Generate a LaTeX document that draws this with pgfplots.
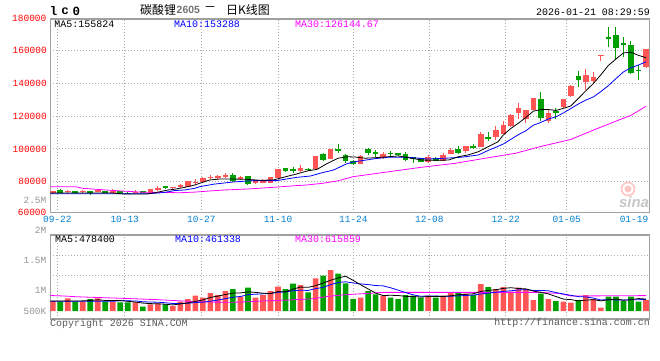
\documentclass[border=0pt]{standalone}
\usepackage{fontspec}
\usepackage{pgfplots}
\usepackage{pgfplotstable}
\pgfplotsset{compat=1.18}
\setmainfont{Liberation Mono}
\newfontfamily\cjk{Noto Sans CJK SC}
\newfontfamily\sansf{Liberation Sans}
\definecolor{candred}{RGB}{255,85,85}
\definecolor{candgreen}{RGB}{0,160,0}
\definecolor{framegray}{RGB}{160,160,160}
\definecolor{gridgray}{RGB}{170,170,170}
\definecolor{labred}{RGB}{255,0,0}
\definecolor{labblue}{RGB}{0,128,210}
\definecolor{labgray}{RGB}{150,150,150}
\definecolor{mablue}{RGB}{0,0,255}
\definecolor{mamag}{RGB}{255,0,255}
\definecolor{txtgray}{RGB}{90,90,90}
\newcommand\mf{\fontsize{9.5}{10}\selectfont}
\newcommand\lf{\fontsize{10}{11}\selectfont}

% i open high low close volume (up days)
\pgfplotstableread{
i O H L C V
0 72800 74400 72600 74200 400000
2 73600 74900 73200 74400 507000
4 73600 75000 73200 74400 373000
6 73600 75500 73400 74900 507000
8 73200 75500 72800 74000 373000
11 73000 74900 72800 73600 347000
13 72800 75600 72600 75500 267000
14 74900 77300 74400 76300 307000
16 75900 76900 74900 76700 200000
17 76500 78400 76100 77700 373000
18 76900 80600 76700 80400 480000
19 79200 81600 78400 80000 613000
20 79800 83000 79000 82400 533000
21 82200 83900 81400 82800 720000
22 82200 84200 81800 83400 640000
23 82800 85100 82200 84000 800000
25 81600 83400 81000 82800 573000
27 79000 80400 78500 80200 533000
28 79300 81400 79000 80800 640000
29 79300 82800 79100 82600 800000
30 82400 87700 82200 87500 973000
33 86500 90000 85900 88500 1040000
35 87900 95900 87700 95700 1307000
37 93800 100100 93600 99900 1640000
41 91000 96000 90700 95700 533000
44 94300 98100 93800 96900 613000
50 91800 96100 91200 95200 613000
52 92600 97500 92400 96500 613000
53 97000 100400 96800 99300 747000
55 98500 102000 97300 101800 693000
57 101400 110200 101100 109100 1080000
59 107000 114000 105400 111600 880000
60 109300 117100 109100 114800 960000
61 114000 121100 113600 120900 773000
62 122000 127900 118300 125000 933000
63 118300 124000 116000 123800 880000
64 123800 131100 123600 130900 440000
66 117100 124400 116000 121800 480000
68 125900 130500 124800 130300 373000
69 132400 138800 131600 138700 333000
71 141100 148700 136000 145200 640000
72 141500 146800 139500 143800 480000
73 156800 157200 153500 157200 133000
79 149900 161100 149300 160900 440000
}\redK

% down days
\pgfplotstableread{
i O H L C V
1 74900 75700 72800 73200 373000
3 74200 74500 72600 72800 373000
5 74200 74400 72000 72800 480000
7 74200 74400 73000 73200 373000
9 74000 74300 73000 73200 347000
10 73200 73400 72400 72800 347000
12 74000 74300 73000 73200 173000
15 77300 77500 75700 76100 267000
24 84000 85100 79800 80600 880000
26 83400 83600 77900 78700 933000
31 88100 88300 86100 86500 880000
32 87500 88800 85500 86700 1093000
34 87700 88500 86700 87100 747000
36 97100 97700 92600 93200 1413000
38 99900 103000 97700 98900 1493000
39 96000 96700 91600 92400 1107000
40 92400 93200 90000 90800 480000
42 99900 100600 96400 97200 800000
43 98000 99300 94900 96900 667000
45 97500 98700 95200 96900 533000
46 97500 97700 95900 96100 480000
47 96700 98100 92400 93200 640000
48 95000 95200 91600 94000 613000
49 94300 94400 91800 92000 533000
51 94600 94800 92400 92600 533000
54 100100 101800 96900 97500 747000
56 102000 102800 100100 100700 640000
58 107500 110500 104800 106200 960000
65 130500 135000 117300 119100 693000
67 123400 124800 118300 121800 400000
70 144600 147800 138100 142100 440000
74 168600 174700 162300 167000 573000
75 169700 174400 155200 161900 573000
76 164600 168600 156000 163400 400000
77 163600 166000 145600 146200 573000
78 148300 151300 142100 147500 373000
}\greenK

\pgfplotsset{
  panel/.style={
    scale only axis, anchor=south west, width=599bp,
    xmin=-0.32, xmax=79.44,
    axis line style={draw=framegray, line width=1.4bp},
    major tick length=0pt,
    grid=major,
    grid style={draw=gridgray, line width=0.9bp, dash pattern=on 1bp off 2bp},
    xtick={0.61,9.59,19.79,30.0,40.03,50.15,60.32,68.44},
    scaled y ticks=false,
    /pgf/number format/assume math mode=true,
    clip=true,
  },
  wick/.style={only marks, mark=none, mark size=0pt,
    mark options={draw=none, fill=none}, forget plot,
    error bars/.cd, y dir=plus, y explicit, error mark=none,
    error bar style={line width=1bp, draw=#1}},
  body/.style={only marks, mark=none, mark size=0pt,
    mark options={draw=none, fill=none}, forget plot,
    error bars/.cd, y dir=plus, y explicit, error mark=none,
    error bar style={line width=5.6bp, draw=#1}},
}

\begin{document}
\begin{tikzpicture}[x=1bp,y=1bp]
\useasboundingbox (0,0) rectangle (660,360);
\fill[white] (0,0) rectangle (660,360);

% watermark
\fill[candred!35] (628,171) circle (3.5);
\draw[candred!35, line width=1.6bp] (628,171) circle (6.5);
\node[text=black!22, font=\sansf\bfseries\itshape\fontsize{15}{15}\selectfont, inner sep=0] at (634,158) {sina};

% ---------------- price panel ----------------
\begin{axis}[panel, at={(50.3bp,147.3bp)}, height=193.7bp,
  ymin=60980, ymax=179450,
  ytick={80000,100000,120000,140000,160000},
  yticklabels={80000,100000,120000,140000,160000},
  xticklabels={09-22,10-13,10-27,11-10,11-24,12-08,12-22,01-05},
  extra x ticks={77.4}, extra x tick labels={01-19},
  extra x tick style={grid=none},
  xticklabel style={font=\mf, text=labblue},
  yticklabel style={font=\mf, text=labred},
]
\addplot[wick=candred] table[x=i, y=L, y error expr=\thisrow{H}-\thisrow{L}] {\redK};
\addplot[body=candred] table[x=i, y=O, y error expr=\thisrow{C}-\thisrow{O}] {\redK};
\addplot[wick=candgreen] table[x=i, y=L, y error expr=\thisrow{H}-\thisrow{L}] {\greenK};
\addplot[body=candgreen] table[x=i, y=C, y error expr=\thisrow{O}-\thisrow{C}] {\greenK};
% MA30
\addplot[mamag, line width=0.8bp] coordinates {(-0.3,76900) (3,76900) (4,75900) (7,74900) (9,74300) (12,73500) (17,73200) (19,73600) (21,74300) (23,74900) (26,75500) (28,76100) (30,76700) (32,77400) (34,78000) (36,79000) (38,80500) (40,83000) (44.7,86000) (49,88700) (53.6,91200) (58,94600) (61.6,97300) (65,101500) (69,105800) (72,111500) (75,117000) (77,120500) (79,126145)};
% MA10
\addplot[mablue, line width=0.8bp] coordinates {(-0.3,72600) (12.7,72600) (14.5,73200) (15.4,73800) (16.2,74500) (17.6,74900) (18.9,75900) (19.6,76900) (21.4,78400) (24.1,79800) (26.7,80600) (29.8,80600) (32.5,82600) (34.3,83400) (35.6,85100) (37.4,87100) (39.1,90800) (40,92000) (42.9,94000) (44.7,94900) (47.4,94900) (50,93800) (52.7,94400) (54.4,94900) (56.7,96300) (58,99100) (59,101000) (60,103000) (61,105800) (62,108700) (63,111100) (64,114500) (65,116200) (66,118300) (67,119600) (68,122000) (69,124700) (70,127500) (71,129900) (72,131800) (73,135100) (74,138700) (75,143000) (76,147100) (77,149600) (78,151300) (79,153288)};
% MA5
\addplot[black, line width=0.8bp] coordinates {(-0.3,73000) (8,73000) (9.5,72400) (12.5,72400) (13.6,73200) (15.4,74900) (16.2,75300) (17.6,76500) (18.9,77900) (19.6,79000) (20.9,81000) (22.3,81600) (23.6,81600) (25.8,81400) (27.6,80800) (29.4,81000) (30.7,82600) (32.5,84700) (33.9,86500) (35.2,87500) (36.6,91200) (38,94300) (39.3,95200) (40.3,95000) (41.6,94300) (42.9,94600) (44.7,95200) (46,95700) (47.4,94600) (49.1,93200) (50.9,93000) (52.7,93200) (54,95200) (55.3,96300) (56.7,98300) (58,101400) (59.3,104400) (60,108500) (61,112500) (62,115700) (63,119200) (64,123100) (65,124000) (66,124100) (67,123500) (68,124800) (69,126300) (70,130900) (71,135600) (72,140000) (73,145400) (74,151100) (75,155000) (76,158700) (77,159100) (78,157200) (79,155824)};
\end{axis}

% ---------------- volume panel ----------------
\begin{axis}[panel, at={(50.3bp,41bp)}, height=84bp,
  ymin=-320000, ymax=3040000,
  ytick={1412000,2212000}, yticklabels={,},
  xticklabels={,,,,,,,},
]
\addplot[ybar, bar width=5.6bp, bar shift=0pt, fill=candred, draw=none, forget plot] table[x=i, y=V] {\redK};
\addplot[ybar, bar width=5.6bp, bar shift=0pt, fill=candgreen, draw=none, forget plot] table[x=i, y=V] {\greenK};
% vol MA30
\addplot[mamag, line width=0.8bp] coordinates {(-0.3,620000) (1.5,600000) (3.2,570000) (6,540000) (10,500000) (13.8,455000) (17.4,400000) (20,360000) (24,350000) (26,370000) (28,400000) (31.5,440000) (34.7,490000) (36.5,580000) (38.5,640000) (40,670000) (42,705000) (44,745000) (65,745000) (67.5,700000) (69,600000) (79,615859)};
% vol MA10
\addplot[mablue, line width=0.8bp] coordinates {(-0.3,390000) (8,390000) (9,411000) (10,405000) (11,403000) (12,369000) (13,359000) (14,352000) (15,331000) (16,300000) (17,300000) (18,311000) (19,337000) (20,356000) (21,393000) (22,440000) (23,493000) (24,551000) (25,581000) (26,655000) (27,671000) (28,687000) (29,705000) (30,749000) (31,765000) (32,811000) (33,835000) (34,821000) (35,895000) (36,943000) (37,1053000) (38,1139000) (39,1169000) (40,1120000) (41,1085000) (42,1056000) (43,1019000) (44,1005000) (45,928000) (46,835000) (47,735000) (48,647000) (49,589000) (50,603000) (51,603000) (52,584000) (53,592000) (54,605000) (55,621000) (56,637000) (57,681000) (58,716000) (59,751000) (60,785000) (61,809000) (62,841000) (63,855000) (64,824000) (65,824000) (66,808000) (67,740000) (68,681000) (69,627000) (70,575000) (71,561000) (72,516000) (73,441000) (74,455000) (75,443000) (76,435000) (77,452000) (78,452000) (79,461338)};
% vol MA5
\addplot[black, line width=0.8bp] coordinates {(-0.3,400000) (3,400000) (4,405000) (5,421000) (6,448000) (7,421000) (8,421000) (9,416000) (10,389000) (11,357000) (12,317000) (13,296000) (14,288000) (15,272000) (16,243000) (17,283000) (18,325000) (19,387000) (20,440000) (21,544000) (22,597000) (23,661000) (24,715000) (25,723000) (26,765000) (27,744000) (28,712000) (29,696000) (30,776000) (31,765000) (32,877000) (33,957000) (34,947000) (35,1013000) (36,1120000) (37,1229000) (38,1320000) (39,1392000) (40,1227000) (41,1051000) (42,883000) (43,717000) (44,619000) (45,629000) (46,619000) (47,587000) (48,576000) (49,560000) (50,576000) (51,586000) (52,581000) (53,608000) (54,651000) (55,667000) (56,688000) (57,781000) (58,824000) (59,851000) (60,904000) (61,931000) (62,901000) (63,885000) (64,797000) (65,744000) (66,685000) (67,579000) (68,477000) (69,456000) (70,405000) (71,437000) (72,453000) (73,405000) (74,453000) (75,480000) (76,432000) (77,450000) (78,498000) (79,478400)};
\end{axis}

% ---------------- texts ----------------
\node[font=\fontsize{12.5}{13}\selectfont\bfseries, inner sep=0] at (53.7,349) {l};
\node[font=\fontsize{12.5}{13}\selectfont\bfseries, inner sep=0] at (65,349) {c};
\node[font=\fontsize{12.5}{13}\selectfont\bfseries, inner sep=0] at (76.3,349) {0};
\node[anchor=west, inner sep=0, font=\cjk\fontsize{12}{12}\selectfont] at (140,350.5) {碳酸锂};
\node[anchor=west, inner sep=0, font=\sansf\bfseries\fontsize{10.5}{11}\selectfont, text=black!55] at (176.5,350.5) {2605};
\node[inner sep=0, font=\cjk\fontsize{12}{12}\selectfont] at (210,350.5) {－};
\node[anchor=west, inner sep=0, font=\cjk\fontsize{12}{12}\selectfont] at (226,350.5) {日K线图};
\node[anchor=east, inner sep=0, font=\lf] at (650,348) {2026-01-21 08:29:59};

\node[anchor=west, inner sep=0, font=\lf] at (54.3,335.8) {MA5:155824};
\node[anchor=west, inner sep=0, font=\lf, text=mablue] at (174,335.8) {MA10:153288};
\node[anchor=west, inner sep=0, font=\lf, text=mamag] at (295,335.8) {MA30:126144.67};

\node[anchor=west, inner sep=0, font=\lf] at (55,121) {MA5:478400};
\node[anchor=west, inner sep=0, font=\lf, text=mablue] at (175,121) {MA10:461338};
\node[anchor=west, inner sep=0, font=\lf, text=mamag] at (295,121) {MA30:615859};

\node[anchor=east, inner sep=0, font=\mf, text=labred] at (46.5,342) {180000};
\node[anchor=east, inner sep=0, font=\mf, text=labred] at (46.5,147.3) {60000};
\node[anchor=east, inner sep=0, font=\mf, text=labgray] at (46.5,159.3) {2.5M};
\node[anchor=east, inner sep=0, font=\mf, text=labgray] at (46.5,129.5) {2M};
\node[anchor=east, inner sep=0, font=\mf, text=labgray] at (46.5,100) {1.5M};
\node[anchor=east, inner sep=0, font=\mf, text=labgray] at (46.5,69.7) {1M};
\node[anchor=east, inner sep=0, font=\mf, text=labgray] at (46.5,49) {500K};

\node[anchor=west, inner sep=0, font=\lf, text=txtgray] at (50,36) {Copyright 2026 SINA.COM};
\node[anchor=east, inner sep=0, font=\lf, text=txtgray] at (650,37.5) {http://finance.sina.com.cn};
\end{tikzpicture}
\end{document}
